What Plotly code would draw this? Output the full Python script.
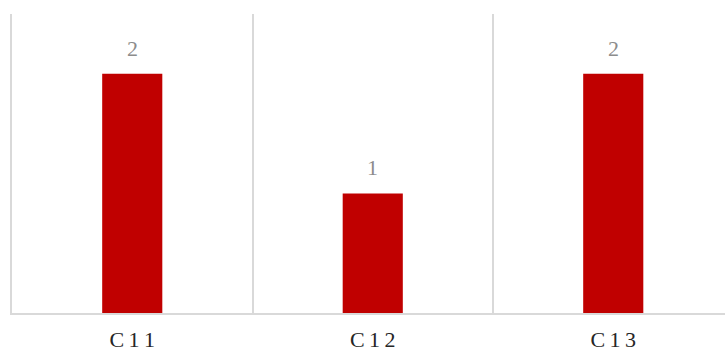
import plotly.graph_objects as go

categories = ["C11", "C12", "C13"]
values = [2, 1, 2]

xpos = list(range(len(categories)))
ticktext = ["\u2009".join(c) for c in categories]
boundaries = [i - 0.5 for i in xpos]

fig = go.Figure()
fig.add_trace(go.Bar(x=xpos, y=values, width=0.25, marker=dict(color="#C00000", line=dict(width=0)),
                     hoverinfo="skip"))

for x, v in zip(xpos, values):
    fig.add_annotation(x=x, y=v, text=str(v), showarrow=False, yanchor="bottom", yshift=11,
                       font=dict(family="Liberation Serif", size=22, color="#8C8C8C"))

fig.update_layout(
    width=725, height=352,
    margin=dict(l=12, r=0, t=14, b=36),
    paper_bgcolor="white", plot_bgcolor="white",
    showlegend=False,
    xaxis=dict(range=[-0.5, -0.5 + 713 / 240.5], tickvals=xpos, ticktext=ticktext,
               showgrid=False, zeroline=False, showline=True, linecolor="#D9D9D9", linewidth=2,
               ticks="", ticklabelstandoff=6,
               tickfont=dict(family="Liberation Serif", size=22, color="#262626"),
               minor=dict(tickvals=boundaries, showgrid=True, gridcolor="#D9D9D9", gridwidth=2, ticks="")),
    yaxis=dict(range=[0, 2.5], showgrid=False, zeroline=False, showticklabels=False,
               showline=True, linecolor="#D9D9D9", linewidth=2),
)

fig.write_html("out.html")
